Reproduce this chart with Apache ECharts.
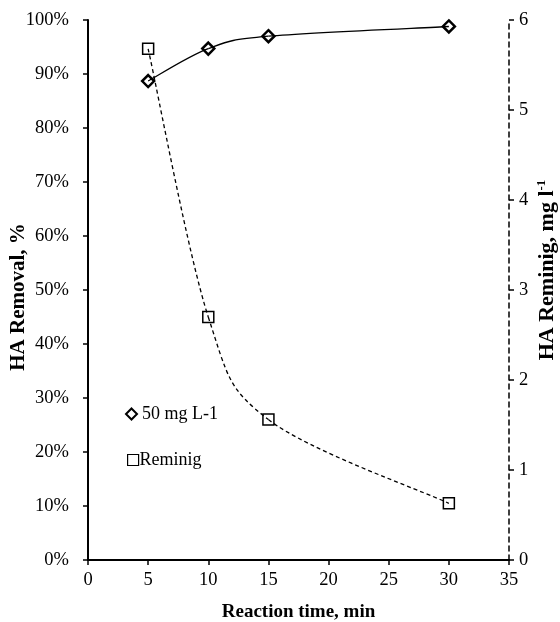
<!DOCTYPE html>
<html>
<head>
<meta charset="utf-8">
<script src="https://cdn.jsdelivr.net/npm/echarts@6/dist/echarts.min.js"></script>
<style>html,body{margin:0;padding:0;background:#fff}#c{width:560px;height:622px}</style>
</head>
<body>
<div id="c"></div>
<script>
var times = [5, 10, 15, 30];
var removal = [88.7, 94.7, 97.0, 98.8];
var reminig = [5.68, 2.7, 1.56, 0.63];
var xTicks = [0, 35, 5];
var removalName = '50 mg L-1';
var reminigName = 'Reminig';

var FONT = '"Liberation Serif", "Times New Roman", serif';

function pairs(xs, ys) { return xs.map(function (x, i) { return [x, ys[i]]; }); }

function curveRenderer(xs, ys, dash, width) {
  return function (params, api) {
    var i = params.dataIndex;
    var n = xs.length;
    if (i >= n - 1) return null;
    var P = xs.map(function (x, k) { return api.coord([x, ys[k]]); });
    var p0 = P[Math.max(i - 1, 0)], p1 = P[i], p2 = P[i + 1], p3 = P[Math.min(i + 2, n - 1)];
    var f = 1 / 6;
    return {
      type: 'bezierCurve',
      shape: {
        x1: p1[0], y1: p1[1], x2: p2[0], y2: p2[1],
        cpx1: p1[0] + (p2[0] - p0[0]) * f, cpy1: p1[1] + (p2[1] - p0[1]) * f,
        cpx2: p2[0] - (p3[0] - p1[0]) * f, cpy2: p2[1] - (p3[1] - p1[1]) * f
      },
      style: { stroke: '#000', fill: null, lineWidth: width, lineDash: dash }
    };
  };
}

var chart = echarts.init(document.getElementById('c'), null, { renderer: 'canvas' });
chart.setOption({
  animation: false,
  backgroundColor: '#fff',
  textStyle: { fontFamily: FONT, color: '#000' },
  grid: { left: 88, right: 51, top: 20, bottom: 62, containLabel: false, outerBoundsMode: 'none' },
  legend: [{
    orient: 'vertical', left: 120, top: 400, itemWidth: 11, itemHeight: 11, itemGap: 10,
    data: [{ name: removalName, icon: 'diamond' }],
    textStyle: { fontFamily: FONT, fontSize: 18, color: '#000' }
  }, {
    orient: 'vertical', left: 122, top: 446, itemWidth: 11, itemHeight: 11, itemGap: 2,
    data: [{ name: reminigName, icon: 'rect', itemStyle: { borderWidth: 1.2 } }],
    textStyle: { fontFamily: FONT, fontSize: 18, color: '#000', padding: [0, 0, 0, -4] }
  }],
  xAxis: {
    type: 'value', min: xTicks[0], max: xTicks[1], interval: xTicks[2],
    axisLine: { lineStyle: { color: '#000', width: 2 } },
    axisTick: { inside: false, length: 5, lineStyle: { color: '#000', width: 1.5 } },
    axisLabel: { fontFamily: FONT, fontSize: 18.5, color: '#000', margin: 11 },
    splitLine: { show: false },
    name: 'Reaction time, min', nameLocation: 'middle', nameGap: 43, nameMoveOverlap: false,
    nameTextStyle: { fontFamily: FONT, fontSize: 19, fontWeight: 'bold', color: '#000' }
  },
  yAxis: [{
    type: 'value', min: 0, max: 100, interval: 10,
    axisLine: { show: true, lineStyle: { color: '#000', width: 2 } },
    axisTick: { show: true, inside: false, length: 5, lineStyle: { color: '#000', width: 1.5 } },
    axisLabel: { fontFamily: FONT, fontSize: 18.5, color: '#000', margin: 19, formatter: '{value}%' },
    splitLine: { show: false },
    name: '{a|HA Removal, %}', nameLocation: 'middle', nameRotate: 90, nameGap: 59, nameMoveOverlap: false,
    nameTextStyle: {
      fontFamily: FONT, fontSize: 21, fontWeight: 'bold', color: '#000',
      rich: { a: { fontFamily: FONT, fontSize: 21, fontWeight: 'bold', color: '#000', padding: [0, 14, 0, 0] } }
    }
  }, {
    type: 'value', min: 0, max: 6, interval: 1, position: 'right',
    axisLine: { show: true, lineStyle: { color: '#000', width: 1.5, type: [5, 4] } },
    axisTick: { show: true, inside: false, length: 5, lineStyle: { color: '#000', width: 1.5 } },
    axisLabel: { fontFamily: FONT, fontSize: 18.5, color: '#000', margin: 10 },
    splitLine: { show: false },
    name: '{a|HA Reminig, mg l}{s|-1}', nameLocation: 'middle', nameRotate: 90, nameGap: 26, nameMoveOverlap: false,
    nameTextStyle: {
      fontFamily: FONT, fontSize: 22, fontWeight: 'bold', color: '#000',
      rich: {
        a: { fontFamily: FONT, fontSize: 22, fontWeight: 'bold', color: '#000', padding: [0, 0, 0, 40] },
        s: { fontFamily: FONT, fontSize: 13, fontWeight: 'bold', color: '#000', padding: [0, 0, 12, 0] }
      }
    }
  }],
  series: [{
    type: 'custom', name: 'c1', xAxisIndex: 0, yAxisIndex: 0, silent: true, z: 3,
    data: pairs(times, removal),
    renderItem: curveRenderer(times, removal, null, 1.3)
  }, {
    type: 'custom', name: 'c2', xAxisIndex: 0, yAxisIndex: 1, silent: true, z: 3,
    data: pairs(times, reminig),
    renderItem: curveRenderer(times, reminig, [4, 3], 1.3)
  }, {
    type: 'scatter', name: removalName, xAxisIndex: 0, yAxisIndex: 0, z: 4,
    symbol: 'diamond', symbolSize: 12,
    itemStyle: { color: 'rgba(255,255,255,0)', borderColor: '#000', borderWidth: 2.5, opacity: 1 },
    data: pairs(times, removal)
  }, {
    type: 'scatter', name: reminigName, xAxisIndex: 0, yAxisIndex: 1, z: 4,
    symbol: 'rect', symbolSize: 11,
    itemStyle: { color: 'rgba(255,255,255,0)', borderColor: '#000', borderWidth: 1.5, opacity: 1 },
    data: pairs(times, reminig)
  }]
});
</script>
</body>
</html>
